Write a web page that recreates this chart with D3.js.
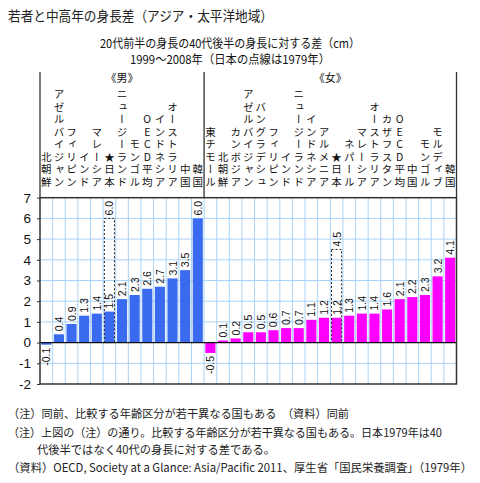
<!DOCTYPE html>
<html><head><meta charset="utf-8">
<script src="https://cdn.jsdelivr.net/npm/d3@7"></script>
<style>
html,body{margin:0;padding:0;background:#fff;}
svg{display:block;}
.jp{font-family:"Noto Sans CJK JP","Noto Sans",sans-serif;}
.num{font-family:"Liberation Sans",Arial,sans-serif;}
.vt{writing-mode:vertical-rl;text-orientation:upright;}
</style>
</head><body>
<script>
const menCats = ["北朝鮮","アゼルバイジャン","フィリピン","インド","マレーシア","★日本","ニュージーランド","モンゴル","OECD平均","インドネシア","オーストラリア","中国","韓国"];
const menVals = [-0.1,0.4,0.9,1.3,1.4,1.5,2.1,2.3,2.6,2.7,3.1,3.5,6.0];
const womenCats = ["東チモール","北朝鮮","カンボジア","アゼルバイジャン","バングラデシュ","フィリピン","インド","ニュージーランド","インドネシア","アルメニア","★日本","ネパール","マレーシア","オーストラリア","カザフスタン","OECD平均","中国","モンゴル","モルディブ","韓国"];
const womenVals = [-0.5,0.1,0.2,0.5,0.5,0.6,0.7,0.7,1.1,1.2,1.2,1.3,1.4,1.4,1.6,2.1,2.2,2.3,3.2,4.1];
const japan1979 = [6.0, 4.5];   // men, women (dotted)
const groupLabels = ["《男》","《女》"];
const yTicks = [-2,-1,0,1,2,3,4,5,6,7];

const title = "若者と中高年の身長差（アジア・太平洋地域）";
const subtitle = ["20代前半の身長の40代後半の身長に対する差（cm）","1999〜2008年（日本の点線は1979年）"];
const notes = ["（注）同前、比較する年齢区分が若干異なる国もある　（資料）同前",
  "（注）上図の（注）の通り。比較する年齢区分が若干異なる国もある。日本1979年は40",
  "代後半ではなく40代の身長に対する差である。",
  "（資料）OECD, Society at a Glance: Asia/Pacific 2011、厚生省「国民栄養調査」（1979年）"];

const data = menCats.map((c,i)=>({cat:c,v:menVals[i],g:0}))
  .concat(womenCats.map((c,i)=>({cat:c,v:womenVals[i],g:1})));
data.forEach((d,i)=>d.i=i);

const W=480,H=483;
const L=40,R=456.5,T=197.7,B=384;
const svg=d3.select("body").append("svg").attr("width",W).attr("height",H);
svg.append("rect").attr("width",W).attr("height",H).attr("fill","#fff");

const x=d3.scaleBand().domain(d3.range(data.length)).range([L,R]).paddingInner(0.2).paddingOuter(0.1);
const step=x.step();
const y=d3.scaleLinear().domain([-2,7]).range([B,T]);
const cell=i=>x(i)-step*0.1;

// grid
const grid=svg.append("g").attr("stroke","#a9d3f7").attr("stroke-width",1);
yTicks.forEach(t=>{ if(t!==0&&t!==7&&t!==-2) grid.append("line").attr("x1",L).attr("x2",R).attr("y1",y(t)).attr("y2",y(t)); });
d3.range(1,data.length).forEach(i=>grid.append("line").attr("x1",cell(i)).attr("x2",cell(i)).attr("y1",T).attr("y2",B));

// bars
const colors=["#3a6af0","#ff00ff"];
svg.append("g").selectAll("rect").data(data).join("rect")
  .attr("x",d=>x(d.i)).attr("width",x.bandwidth())
  .attr("y",d=>y(Math.max(0,d.v))).attr("height",d=>Math.abs(y(d.v)-y(0)))
  .attr("fill",d=>colors[d.g]);

// Japan 1979 dotted
const jIdx=[menCats.indexOf("★日本"), menCats.length+womenCats.indexOf("★日本")];
jIdx.forEach((ji,k)=>{
  svg.append("rect").attr("x",x(ji)).attr("width",x.bandwidth())
    .attr("y",y(japan1979[k])).attr("height",y(0)-y(japan1979[k]))
    .attr("fill","none").attr("stroke","#222").attr("stroke-width",1).attr("stroke-dasharray","2,2");
});

// zero line and frame
svg.append("line").attr("x1",L).attr("x2",R).attr("y1",y(0)).attr("y2",y(0)).attr("stroke","#111").attr("stroke-width",1.2);
svg.append("rect").attr("x",L).attr("y",T).attr("width",R-L).attr("height",B-T).attr("fill","none").attr("stroke","#333").attr("stroke-width",1.5);

// value labels
const fmt=d3.format(".1f");
const vl=svg.append("g").attr("class","num").attr("font-size",10.5).attr("fill","#111");
data.forEach(d=>{
  const cx=x(d.i)+x.bandwidth()/2;
  const yy=d.v>=0? y(d.v)-3 : y(d.v)+3;
  vl.append("text").attr("transform",`translate(${cx},${yy}) rotate(-90)`)
    .attr("text-anchor",d.v>=0?"start":"end").attr("dominant-baseline","central").text(fmt(d.v).replace("−","-"));
});
jIdx.forEach((ji,k)=>{
  const cx=x(ji)+x.bandwidth()/2;
  vl.append("text").attr("transform",`translate(${cx},${y(japan1979[k])-3}) rotate(-90)`)
    .attr("text-anchor","start").attr("dominant-baseline","central").text(fmt(japan1979[k]));
});

// y axis
const ax=svg.append("g").attr("transform",`translate(${L},0)`)
  .call(d3.axisLeft(y).tickValues(yTicks).tickSize(3).tickPadding(6).tickFormat(d=>d<0?"-"+Math.abs(d):d));
ax.select(".domain").remove();
ax.selectAll("line").attr("stroke","#333");
ax.selectAll("text").attr("class","num").attr("font-size",13.5).attr("fill","#111").attr("font-family","Liberation Sans, Arial, sans-serif");

// label region dividers
const divX=[L, cell(menCats.length), R];
divX.forEach(dx=>svg.append("line").attr("x1",dx).attr("x2",dx).attr("y1",72).attr("y2",T).attr("stroke","#333").attr("stroke-width",1.3));

// group labels
[[L,cell(menCats.length)],[cell(menCats.length),R]].forEach((r,k)=>{
  svg.append("text").attr("class","jp").attr("x",(r[0]+r[1])/2).attr("y",82).attr("text-anchor","middle")
    .attr("font-size",11).attr("fill","#111").text(groupLabels[k]);
});

// category labels (vertical)
const cl=svg.append("g").attr("class","jp").attr("font-size",10.5).attr("fill","#111");
data.forEach(d=>{
  cl.append("text").attr("class","jp vt").attr("x",x(d.i)+x.bandwidth()/2).attr("y",189)
    .attr("text-anchor","end").attr("letter-spacing","2px").text(d.cat);
});

// titles
svg.append("text").attr("class","jp").attr("x",8).attr("y",21).attr("font-size",14).attr("fill","#222")
  .attr("textLength",265).attr("lengthAdjust","spacingAndGlyphs").text(title);
const subW=[260,200];
subtitle.forEach((s,k)=>svg.append("text").attr("class","jp").attr("x",230).attr("y",48+k*16).attr("text-anchor","middle")
  .attr("font-size",12).attr("fill","#111").attr("textLength",subW[k]).attr("lengthAdjust","spacingAndGlyphs").text(s));

// notes
const ny=[418,437,454,472], nx=[8,8,37,8], nw=[341,434,238,464];
notes.forEach((s,k)=>svg.append("text").attr("class","jp").attr("x",nx[k]).attr("y",ny[k]).attr("font-size",11.5).attr("fill","#222")
  .attr("textLength",nw[k]).attr("lengthAdjust","spacingAndGlyphs").text(s));
</script>
</body></html>
